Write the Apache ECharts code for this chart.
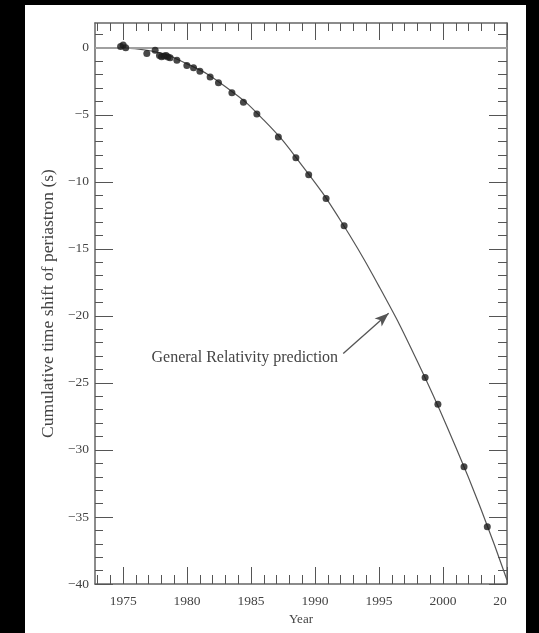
<!DOCTYPE html>
<html>
<head>
<meta charset="utf-8">
<script src="https://cdn.jsdelivr.net/npm/echarts@6/dist/echarts.min.js"></script>
<style>
html,body{margin:0;padding:0;background:#000;}
#c{width:539px;height:633px;}
</style>
</head>
<body>
<div id="c"></div>
<script>
// ---- data ----
var obsYears = [1974.8, 1975.0, 1975.2, 1976.85, 1977.5, 1977.84, 1978.0, 1978.2, 1978.36, 1978.5, 1978.67, 1979.2, 1979.98, 1980.5, 1981.0, 1981.8, 1982.45, 1983.5, 1984.4, 1985.45, 1987.13, 1988.5, 1989.5, 1990.86, 1992.27, 1998.6, 1999.6, 2001.64, 2003.46];
var obsShift = [0.1, 0.2, 0.0, -0.43, -0.18, -0.58, -0.67, -0.62, -0.58, -0.68, -0.75, -0.93, -1.32, -1.49, -1.75, -2.17, -2.61, -3.36, -4.06, -4.93, -6.65, -8.2, -9.47, -11.25, -13.27, -24.6, -26.6, -31.25, -35.73];
var grYears = [1974.8, 1977, 1980, 1983, 1986, 1989, 1992, 1995, 1998, 2001, 2003, 2005];
var grShift = [0, -0.2, -1.2, -2.9, -5.4, -8.8, -12.9, -17.8, -23.4, -29.8, -34.5, -39.7];
var xMajorTicks = [1975, 1980, 1985, 1990, 1995, 2000, 2005];
var xMinorTicks = [1973, 1974, 1975, 1976, 1977, 1978, 1979, 1980, 1981, 1982, 1983, 1984, 1985, 1986, 1987, 1988, 1989, 1990, 1991, 1992, 1993, 1994, 1995, 1996, 1997, 1998, 1999, 2000, 2001, 2002, 2003, 2004, 2005];
var yMajorTicks = [0, -5, -10, -15, -20, -25, -30, -35, -40];
var yMinorTicks = [1, 0, -1, -2, -3, -4, -5, -6, -7, -8, -9, -10, -11, -12, -13, -14, -15, -16, -17, -18, -19, -20, -21, -22, -23, -24, -25, -26, -27, -28, -29, -30, -31, -32, -33, -34, -35, -36, -37, -38, -39, -40];
var xTitle = 'Year';
var yTitle = 'Cumulative time shift of periastron (s)';
var annotation = 'General Relativity prediction';
var arrowFrom = [1992.2, -22.8];
var arrowTo = [1995.75, -19.8];
var annotationAnchor = [1991.8, -23.1];

var X_MIN = 1972.8, X_MAX = 2005, Y_MIN = -40, Y_MAX = 1.85;
var FONT = '"Liberation Serif", "DejaVu Serif", serif';
var AX = '#666', TK = '#555', TXT = '#444';

function pairs(xs, ys){ return xs.map(function(x,i){ return [x, ys[i]]; }); }

function xAxisDef(pos, ticks, len, labels, line){
  return {
    type:'value', position:pos, min:X_MIN, max:X_MAX,
    axisLine:{show:line, onZero:false, lineStyle:{color:AX, width:1.5}},
    axisTick:{show:true, inside:true, length:len, customValues:ticks, lineStyle:{color:TK, width:1}},
    axisLabel:labels ? {
      show:true, customValues:ticks, margin:10, color:TXT, fontFamily:FONT, fontSize:13.5,
      formatter:function(v){ return v === 2005 ? '{cut|20}' : String(v); },
      rich:{cut:{color:TXT, fontFamily:FONT, fontSize:13.5, padding:[0,14,0,0]}}
    } : {show:false},
    splitLine:{show:false}
  };
}
function yAxisDef(pos, ticks, len, labels, line){
  return {
    type:'value', position:pos, min:Y_MIN, max:Y_MAX,
    axisLine:{show:line, onZero:false, lineStyle:{color:AX, width:1.5}},
    axisTick:{show:true, inside:true, length:len, customValues:ticks, lineStyle:{color:TK, width:1}},
    axisLabel:labels ? {
      show:true, customValues:ticks, margin:6, color:TXT, fontFamily:FONT, fontSize:13.5,
      formatter:function(v){ return String(v).replace('-', '\u2212'); }
    } : {show:false},
    splitLine:{show:false}
  };
}

var xa = [
  xAxisDef('bottom', xMajorTicks, 17, true, true),
  xAxisDef('bottom', xMinorTicks, 9, false, false),
  xAxisDef('top', xMajorTicks, 17, false, true),
  xAxisDef('top', xMinorTicks, 8, false, false)
];
xa[0].name = xTitle; xa[0].nameLocation = 'middle'; xa[0].nameGap = 28;
xa[0].nameTextStyle = {color:TXT, fontFamily:FONT, fontSize:13};
var ya = [
  yAxisDef('left', yMajorTicks, 18, true, true),
  yAxisDef('left', yMinorTicks, 8, false, false),
  yAxisDef('right', yMajorTicks, 18, false, true),
  yAxisDef('right', yMinorTicks, 9, false, false)
];
ya[0].name = yTitle; ya[0].nameLocation = 'middle'; ya[0].nameGap = 37;
ya[0].nameTextStyle = {color:TXT, fontFamily:FONT, fontSize:17.5};

var chart = echarts.init(document.getElementById('c'), null, {renderer:'canvas'});
chart.setOption({
  backgroundColor:'#000',
  animation:false,
  grid:{left:95, right:32, top:23, bottom:49, containLabel:false},
  xAxis:xa,
  yAxis:ya,
  series:[
    {
      type:'line', name:'GR', data:pairs(grYears, grShift), smooth:true, symbol:'none',
      lineStyle:{color:'#555', width:1.2}, z:3,
      markLine:{
        silent:true, label:{show:false}, animation:false, symbol:['none','none'],
        data:[
          {yAxis:0, lineStyle:{color:'#a0a0a0', width:1.8, type:'solid'}},
          [
            {coord:arrowFrom, symbol:'none', lineStyle:{color:'#555', width:1.3, type:'solid'}},
            {coord:arrowTo, symbol:'arrow', symbolSize:[8,14], itemStyle:{color:'#222'}}
          ]
        ]
      }
    },
    {
      type:'scatter', name:'obs', data:pairs(obsYears, obsShift), symbol:'circle', symbolSize:7,
      itemStyle:{color:'#1a1a1a'}, z:5
    }
  ]
});
var p = chart.convertToPixel({xAxisIndex:0, yAxisIndex:0}, annotationAnchor);
chart.setOption({
  graphic:[
    {type:'rect', z:-10, silent:true, shape:{x:25, y:5, width:501, height:640}, style:{fill:'#fff'}},
    {type:'text', silent:true, x:p[0], y:p[1], z:10,
     style:{text:annotation, fill:'#444', font:'16px ' + FONT, align:'right', verticalAlign:'middle'}}
  ]
});
</script>
</body>
</html>
